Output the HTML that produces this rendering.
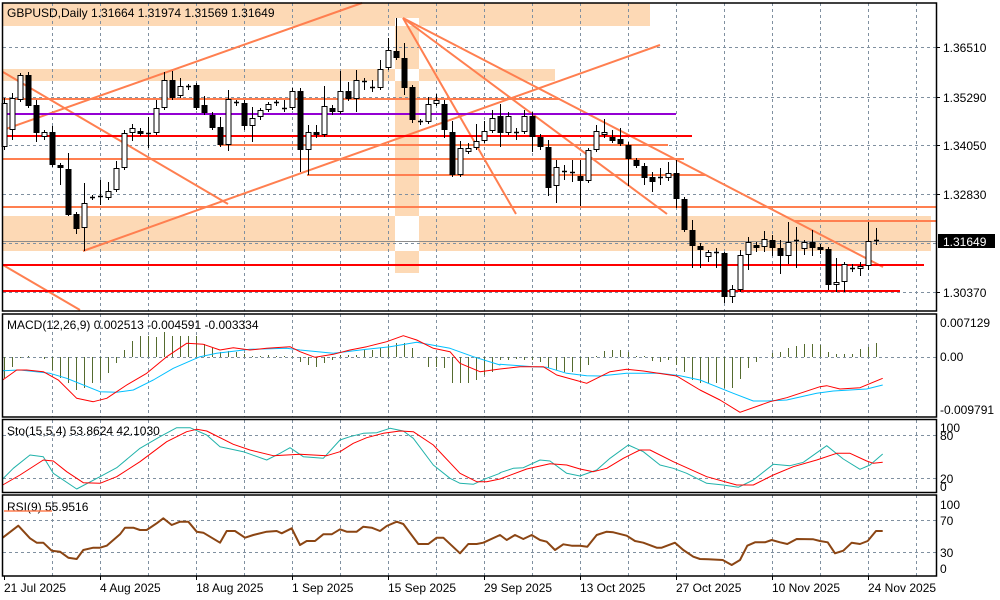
<!DOCTYPE html>
<html><head><meta charset="utf-8"><style>
html,body{margin:0;padding:0;background:#fff;width:1000px;height:600px;overflow:hidden}
svg{display:block}
text{font-family:"Liberation Sans",sans-serif;font-size:12px;fill:#000}
</style></head><body>
<svg id="s" width="1000" height="600" viewBox="0 0 1000 600" xmlns="http://www.w3.org/2000/svg">
<rect width="1000" height="600" fill="#fff"/>
<g id="bg"></g>
<g id="grid" stroke="#8090a0" stroke-dasharray="3,3" stroke-width="1" fill="none"></g>
<g id="obj"></g>
<g id="cndl"></g>
<g id="ind"></g>
<g id="frame" fill="none" stroke="#000" stroke-width="1.5">
<rect x="2.5" y="3" width="934" height="308"/>
<rect x="2.5" y="314" width="934" height="103"/>
<rect x="2.5" y="419.5" width="934" height="73"/>
<rect x="2.5" y="495" width="934" height="81"/>
</g>
<text x="7" y="17">GBPUSD,Daily  1.31664 1.31974 1.31569 1.31649</text>
<text x="7" y="329">MACD(12,26,9) 0.002513 -0.004591 -0.003334</text>
<text x="7" y="435">Sto(15,5,4) 53.8624 42.1030</text>
<text x="7" y="511">RSI(9) 55.9516</text>
<line x1="4" y1="511" x2="52" y2="511" stroke="#ff7f50" stroke-width="1.5"/>
<g id="axis"></g>
</svg>
<script>
var NS="http://www.w3.org/2000/svg";
function el(p,t,a,txt){var e=document.createElementNS(NS,t);for(var k in a)e.setAttribute(k,a[k]);if(txt!=null)e.textContent=txt;document.getElementById(p).appendChild(e);return e;}
// backgrounds
var pe="#fdd9b5";
el("bg","rect",{x:3,y:3,width:647,height:23,fill:pe});
el("bg","rect",{x:3,y:69,width:552,height:12,fill:pe});
el("bg","rect",{x:3,y:216,width:928,height:35,fill:pe});
el("bg","rect",{x:395,y:18,width:24,height:255,fill:pe});
el("bg","rect",{x:395,y:18,width:24,height:8,fill:"#fff"});
el("bg","rect",{x:395,y:69,width:24,height:12,fill:"#fff"});
el("bg","rect",{x:395,y:216,width:24,height:35,fill:"#fff"});
// grid
for(var k=1;k<=19;k++){var x=4+48*k+0.5;[[3,311],[314,417],[420,492],[495,576]].forEach(function(r){el("grid","line",{x1:x,y1:r[0],x2:x,y2:r[1]});});}
[47,97,145,194,243,292].forEach(function(y){el("grid","line",{x1:3,y1:y+.5,x2:936,y2:y+.5});});
[357,435,478,520,552].forEach(function(y){el("grid","line",{x1:3,y1:y+.5,x2:936,y2:y+.5});});
// bid line
el("obj","line",{x1:3,y1:241.5,x2:936,y2:241.5,stroke:"#8c8c8c","stroke-width":1});
// objects
var co="#ff7f50";
function L(x1,y1,x2,y2,c,w){el("obj","line",{x1:x1,y1:y1,x2:x2,y2:y2,stroke:c||co,"stroke-width":w||2});}
L(3,130,362,3);L(83,251,660,45);L(3,72,228,204);L(3,265,80,310);
L(403,18,516,214);L(403,18,667,214);L(403,18,883,267);
L(3,99,560,99);L(3,114,676,114,"#9400d3");L(3,136,692,136,"#ff0000");
L(219,145,668,145);L(3,159,684,159);L(307,175,705,175);L(3,207,936,207);
L(795,221,936,221);L(3,265,924,265,"#ff0000");L(3,291,900,291,"#ff0000");
// candles [top,bottom,hi,lo,white]
var C=[[103,147,98,150,1],[98,130,93,140,1],[75,100,73,102,1],[75,106,72,108,0],[105,133,100,142,0],[132,137,130,140,1],[132,165,126,167,0],[165,168,163,185,0],[169,215,153,216,0],[214,229,212,234,0],[203,228,183,251,1],[197,199,195,200,0],[196,198,180,205,1],[191,198,182,200,1],[168,190,161,192,1],[133,168,130,170,1],[128,133,124,141,1],[131,134,128,136,0],[133,135,117,148,0],[108,133,100,135,1],[80,108,72,110,1],[80,98,71,100,0],[86,96,78,98,1],[86,88,84,90,1],[85,108,83,110,0],[105,113,96,115,0],[115,128,112,130,0],[127,145,117,147,0],[99,145,90,151,1],[102,104,100,106,0],[103,126,100,130,0],[118,126,107,142,1],[110,117,108,120,1],[104,110,102,112,1],[102,104,100,106,1],[108,110,100,112,1],[91,108,88,110,1],[91,150,88,172,0],[132,150,125,175,1],[132,135,125,138,0],[106,135,86,137,1],[108,112,105,115,0],[91,112,71,114,1],[91,99,82,101,0],[80,99,70,112,1],[81,83,78,90,0],[87,89,80,92,0],[69,88,60,90,1],[50,68,38,70,1],[51,58,18,60,0],[58,88,43,95,0],[87,120,85,123,0],[121,123,119,125,0],[104,122,97,124,1],[100,104,94,106,1],[104,130,100,138,0],[132,175,121,177,0],[148,175,141,177,1],[148,152,143,154,1],[141,148,124,150,1],[131,141,121,143,1],[118,131,110,133,1],[116,133,104,147,0],[116,133,112,135,1],[132,134,128,140,1],[116,132,110,134,1],[116,137,112,152,0],[137,147,134,150,0],[147,188,140,196,0],[167,186,160,203,1],[171,173,165,180,0],[172,174,160,182,0],[176,181,160,206,0],[150,181,148,183,1],[131,150,125,152,1],[132,135,119,138,1],[137,141,130,143,0],[139,144,128,146,0],[145,159,142,186,0],[160,166,158,168,0],[166,178,163,185,0],[177,182,172,192,0],[177,179,168,185,0],[173,178,162,181,1],[173,199,160,208,0],[199,230,197,232,0],[230,246,220,268,0],[246,250,243,268,0],[252,257,250,262,1],[252,254,248,268,0],[253,297,252,303,0],[289,297,285,303,1],[255,290,250,292,1],[242,255,237,270,1],[245,248,242,252,0],[239,247,231,252,1],[240,248,235,256,0],[248,256,240,274,0],[242,256,222,264,1],[240,242,227,268,1],[242,249,240,255,1],[242,248,230,256,0],[247,250,244,254,0],[249,285,247,290,0],[282,285,258,292,1],[264,282,262,292,1],[268,270,264,272,0],[266,269,262,276,1],[241,266,222,270,1],[240,242,228,245,0]];
C.forEach(function(c,i){var x=4+8*i+0.5;el("cndl","line",{x1:x,y1:c[2],x2:x,y2:c[3],stroke:"#000","stroke-width":1});var h=Math.max(c[1]-c[0],1);if(h<=2){el("cndl","line",{x1:x-2.5,y1:c[0]+0.5,x2:x+2.5,y2:c[0]+0.5,stroke:"#000","stroke-width":1.5});}else el("cndl","rect",{x:x-2.5,y:c[0]+0.5,width:5,height:h-1,fill:c[4]?"#fff":"#000",stroke:"#000","stroke-width":1});});
// MACD histogram
var H=[378,367,358,356,357,359,370,378,383,390,388,383,380,373,363,350,341,336,336,337,332,336,336,336,336,344,348,352,351,352,354,356,356,355,356,356,356,362,365,367,363,360,355,355,355,350,350,348,345,343,343,348,357,367,367,368,383,383,383,380,375,372,360,360,359,360,360,362,368,370,372,372,372,365,356,351,350,350,352,356,356,361,362,360,365,372,380,383,383,383,388,388,379,368,362,357,353,352,348,346,344,344,345,352,354,354,354,349,347,343];
H.forEach(function(v,i){var x=4+8*i+0.5;el("ind","line",{x1:x,y1:357,x2:x,y2:v,stroke:"#556b2f","stroke-width":1});});
function pl(a,b,c,w){var p=[];a.forEach(function(q){p.push((q[0]/3).toFixed(1)+","+(305+q[1]/3).toFixed(1));});b.forEach(function(q){p.push((500+q[0]/3).toFixed(1)+","+(305+q[1]/3).toFixed(1));});el("ind","polyline",{points:p.join(" "),fill:"none",stroke:c,"stroke-width":w||1,"stroke-linejoin":"round"});}
pl([[8,197],[60,195],[150,205],[200,220],[300,260],[350,262],[400,255],[460,225],[520,190],[600,155],[650,145],[750,133],[860,130],[900,135],[1000,145],[1100,133],[1170,125],[1250,112],[1350,130],[1420,155],[1500,180]],[[0,178],[100,185],[140,187],[200,205],[260,212],[300,213],[380,205],[480,205],[540,212],[600,225],[700,265],[760,288],[800,288],[860,285],[950,265],[1000,258],[1100,252],[1148,240]],"#00bfff");
pl([[8,225],[50,195],[80,195],[130,200],[175,225],[230,280],[280,290],[320,280],[380,240],[440,205],[500,155],[560,115],[610,118],[660,135],[700,128],[750,135],[800,130],[870,125],[900,140],[945,157],[1000,148],[1050,135],[1100,125],[1160,110],[1210,92],[1250,105],[1300,130],[1350,140],[1380,175],[1440,200],[1500,192]],[[0,192],[60,185],[130,185],[170,210],[260,235],[330,200],[380,193],[430,198],[530,213],[600,255],[660,285],[720,322],[810,290],[860,278],[900,265],[960,245],[980,242],[1020,252],[1080,248],[1148,220]],"#ff0000");
pl([[8,522],[40,490],[90,450],[130,455],[160,505],[230,552],[300,515],[350,488],[420,430],[480,395],[530,368],[570,368],[620,390],[660,425],[730,440],[800,465],[840,445],[870,428],[910,455],[970,460],[1020,405],[1050,395],[1090,385],[1130,383],[1170,370],[1210,378],[1240,400],[1300,480],[1350,520],[1380,535],[1420,538],[1460,520],[1500,505]],[[0,503],[40,490],[70,488],[120,465],[150,468],[200,505],[240,513],[290,495],[330,460],[385,420],[430,440],[480,480],[520,490],[560,505],[620,535],[670,540],[715,547],[760,525],[820,478],[870,482],[910,472],[980,422],[1030,462],[1080,493],[1110,480],[1148,447]],"#20b2aa");
pl([[8,540],[60,510],[130,465],[160,468],[200,500],[250,533],[300,535],[350,515],[420,470],[500,410],[560,380],[590,373],[620,378],[700,418],[750,435],[820,452],[900,448],[980,452],[1020,440],[1060,415],[1100,398],[1150,385],[1200,378],[1240,380],[1300,420],[1380,505],[1430,530],[1460,530],[1500,522]],[[0,522],[80,492],[150,476],[200,480],[240,492],[280,500],[320,490],[370,460],[420,435],[450,435],[520,470],[620,515],[710,540],[760,540],[820,510],[880,485],[950,465],[1010,445],[1050,445],[1100,468],[1120,475],[1148,472]],"#ff0000");
pl([[8,698],[55,662],[90,700],[110,713],[130,713],[155,737],[180,740],[205,758],[230,762],[250,735],[280,728],[300,728],[320,722],[360,688],[375,668],[400,668],[420,675],[440,675],[470,655],[490,640],[515,660],[540,650],[565,650],[590,680],[610,683],[630,695],[660,713],[680,678],[705,678],[735,698],[760,690],[800,680],[830,678],[845,685],[875,670],[900,720],[920,708],[945,708],[970,688],[995,688],[1020,673],[1040,680],[1070,680],[1090,665],[1115,668],[1140,678],[1160,663],[1190,650],[1210,657],[1255,717],[1285,717],[1310,698],[1330,698],[1380,745],[1405,717],[1430,717],[1450,713],[1500,690]],[[0,690],[20,705],[45,690],[70,702],[95,690],[120,705],[140,710],[165,735],[190,718],[215,722],[240,722],[262,725],[290,690],[320,680],[340,682],[380,692],[405,708],[430,713],[470,728],[485,728],[525,713],[550,735],[580,755],[600,762],[625,763],[668,765],[695,780],[720,765],[742,722],[765,712],[795,712],[815,705],[840,712],[862,717],[890,702],[940,703],[960,708],[983,712],[1005,745],[1030,737],[1055,713],[1080,717],[1103,708],[1128,678],[1148,678]],"#8b4513",2);
// axis labels
function T(x,y,s,a){var e=el("axis","text",{x:x,y:y},s);if(a)for(var k in a)e.setAttribute(k,a[k]);return e;}
[[47,"1.36510"],[97,"1.35290"],[145,"1.34050"],[194,"1.32830"],[292,"1.30370"]].forEach(function(q){el("axis","line",{x1:936,y1:q[0]+.5,x2:940,y2:q[0]+.5,stroke:"#000"});T(943,q[0]+5,q[1]);});
el("axis","rect",{x:938,y:234,width:57,height:14,fill:"#000"});
T(943,246,"1.31649",{style:"fill:#fff"});
T(940,327,"0.007129");T(940,361,"0.00");T(940,414,"-0.009791");
T(940,432,"100");T(940,440,"80");T(940,483,"20");T(940,491,"0");
T(940,509,"100");T(940,525,"70");T(940,557,"30");T(940,573,"0");
[[4,"21 Jul 2025"],[100,"4 Aug 2025"],[196,"18 Aug 2025"],[292,"1 Sep 2025"],[388,"15 Sep 2025"],[484,"29 Sep 2025"],[580,"13 Oct 2025"],[676,"27 Oct 2025"],[772,"10 Nov 2025"],[868,"24 Nov 2025"]].forEach(function(q){T(q[0],592,q[1]);el("axis","line",{x1:q[0]+.5,y1:576,x2:q[0]+.5,y2:580,stroke:"#000"});});
</script>
</body></html>
